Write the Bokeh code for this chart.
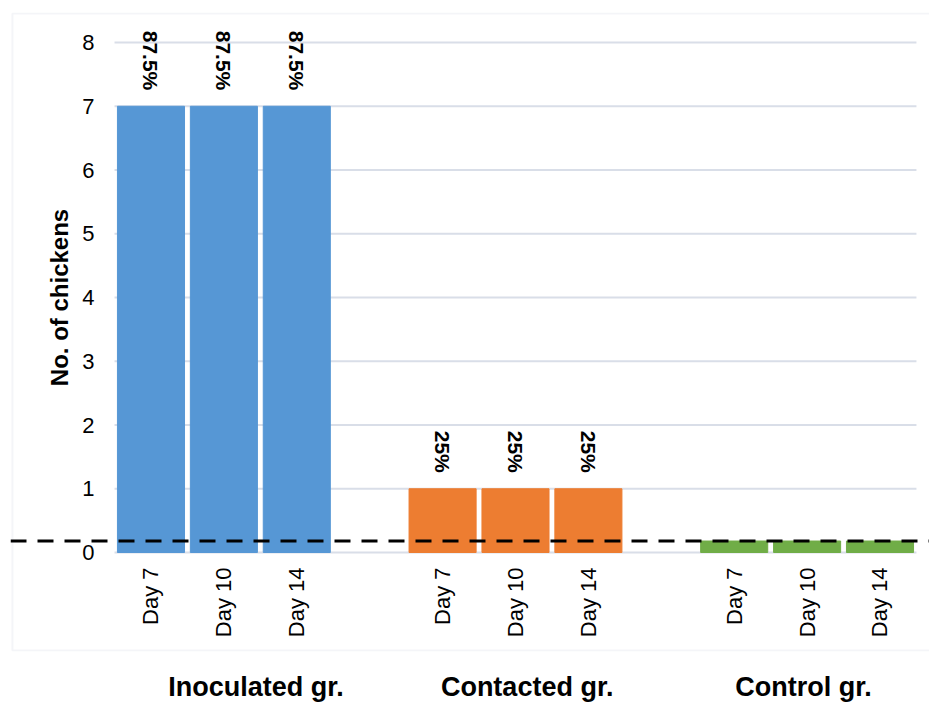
import math

from bokeh.embed import file_html
from bokeh.resources import INLINE
from bokeh.plotting import figure
from bokeh.models import (ColumnDataSource, Range1d, FixedTicker, BoxAnnotation,
                          Span, LinearAxis)
from bokeh.core.properties import value

# ---- data -------------------------------------------------------------
groups = ["Inoculated gr.", "Contacted gr.", "Control gr."]
days = ["Day 7", "Day 10", "Day 14"]
inoculated = [7, 7, 7]
contacted = [1, 1, 1]
control = [0.18, 0.18, 0.18]
percent_labels = ["87.5%", "87.5%", "87.5%", "25%", "25%", "25%", "", "", ""]
threshold = 0.18
y_ticks = [0, 1, 2, 3, 4, 5, 6, 7, 8]

# ---- category slots (one empty slot between groups) -------------------
slots_per_group = len(days) + 1
xs, tops, colors, tick_labels = [], [], [], {}
group_colors = ["#5697D5", "#ED7D31", "#70AD47"]
for g, vals in enumerate([inoculated, contacted, control]):
    for d, v in enumerate(vals):
        x = g * slots_per_group + d
        xs.append(x)
        tops.append(v)
        colors.append(group_colors[g])
        tick_labels[x] = days[d]

src = ColumnDataSource(dict(x=xs, top=tops, color=colors, pct=percent_labels))

FONT = "Liberation Sans"
GRID = "#D9DEE8"

x_lo, x_hi = xs[0] - 0.5, xs[-1] + 0.5

p = figure(width=929, height=705, output_backend="svg", toolbar_location=None,
           x_range=Range1d(-1.927, 10.679), y_range=Range1d(-1.553, 8.471),
           min_border_left=10, min_border_right=0,
           min_border_top=12, min_border_bottom=54)
p.outline_line_color = None
p.background_fill_color = "white"
p.border_fill_color = "white"
p.xgrid.visible = False
p.ygrid.visible = False

# chart box
p.add_layout(BoxAnnotation(left=-1.900, right=11.5, bottom=-1.537, top=8.455,
                           fill_color=None, line_color=GRID, line_width=2,
                           level="underlay"))

# horizontal grid lines across the category slots
p.segment(x0=[x_lo] * len(y_ticks), x1=[x_hi] * len(y_ticks),
          y0=y_ticks, y1=y_ticks, line_color=GRID, line_width=2)

# bars
p.vbar(x="x", top="top", width=0.92, bottom=0, color="color", source=src)

# percentage labels above bars
p.text(x="x", y="top", text="pct", source=src, angle=-math.pi / 2,
       text_align="right", text_baseline="middle", y_offset=-16,
       text_font=value(FONT), text_font_style="bold", text_font_size="21px",
       text_color="black")

# threshold line
p.add_layout(Span(location=threshold, dimension="width", line_color="black",
                  line_width=3, line_dash="16 11"))

# y axis drawn at the left edge of the category slots
yax = p.yaxis[0]
yax.fixed_location = x_lo
yax.bounds = (y_ticks[0], y_ticks[-1])
yax.ticker = FixedTicker(ticks=y_ticks)
yax.axis_line_color = None
yax.major_tick_line_color = None
yax.minor_tick_line_color = None
yax.major_tick_out = 0
yax.major_tick_in = 0
yax.major_label_standoff = 20
yax.major_label_text_font = FONT
yax.major_label_text_font_size = "22px"
yax.major_label_text_color = "black"
yax.axis_label = "No. of chickens"
yax.axis_label_text_font = FONT
yax.axis_label_text_font_style = "bold"
yax.axis_label_text_font_size = "24px"
yax.axis_label_text_color = "black"
yax.axis_label_standoff = 6

# day labels under the bars
xax = p.xaxis[0]
xax.fixed_location = 0
xax.ticker = FixedTicker(ticks=xs)
xax.major_label_overrides = tick_labels
xax.major_label_orientation = math.pi / 2
xax.axis_line_color = None
xax.major_tick_line_color = None
xax.minor_tick_line_color = None
xax.major_tick_out = 0
xax.major_tick_in = 0
xax.major_label_standoff = 15
xax.major_label_text_font = FONT
xax.major_label_text_font_size = "22px"
xax.major_label_text_color = "black"

# group names below the chart box
group_shift = [0.44, 0.16, -0.05]
group_ticks = [g * slots_per_group + 1 + s for g, s in enumerate(group_shift)]
gax = LinearAxis(ticker=FixedTicker(ticks=group_ticks),
                 major_label_overrides=dict(zip(group_ticks, groups)))
gax.axis_line_color = None
gax.major_tick_line_color = None
gax.minor_tick_line_color = None
gax.major_tick_out = 0
gax.major_tick_in = 0
gax.major_label_standoff = 20
gax.major_label_text_font = FONT
gax.major_label_text_font_style = "bold"
gax.major_label_text_font_size = "27px"
gax.major_label_text_color = "black"
p.add_layout(gax, "below")

open("out.html", "w").write(file_html(p, INLINE))
